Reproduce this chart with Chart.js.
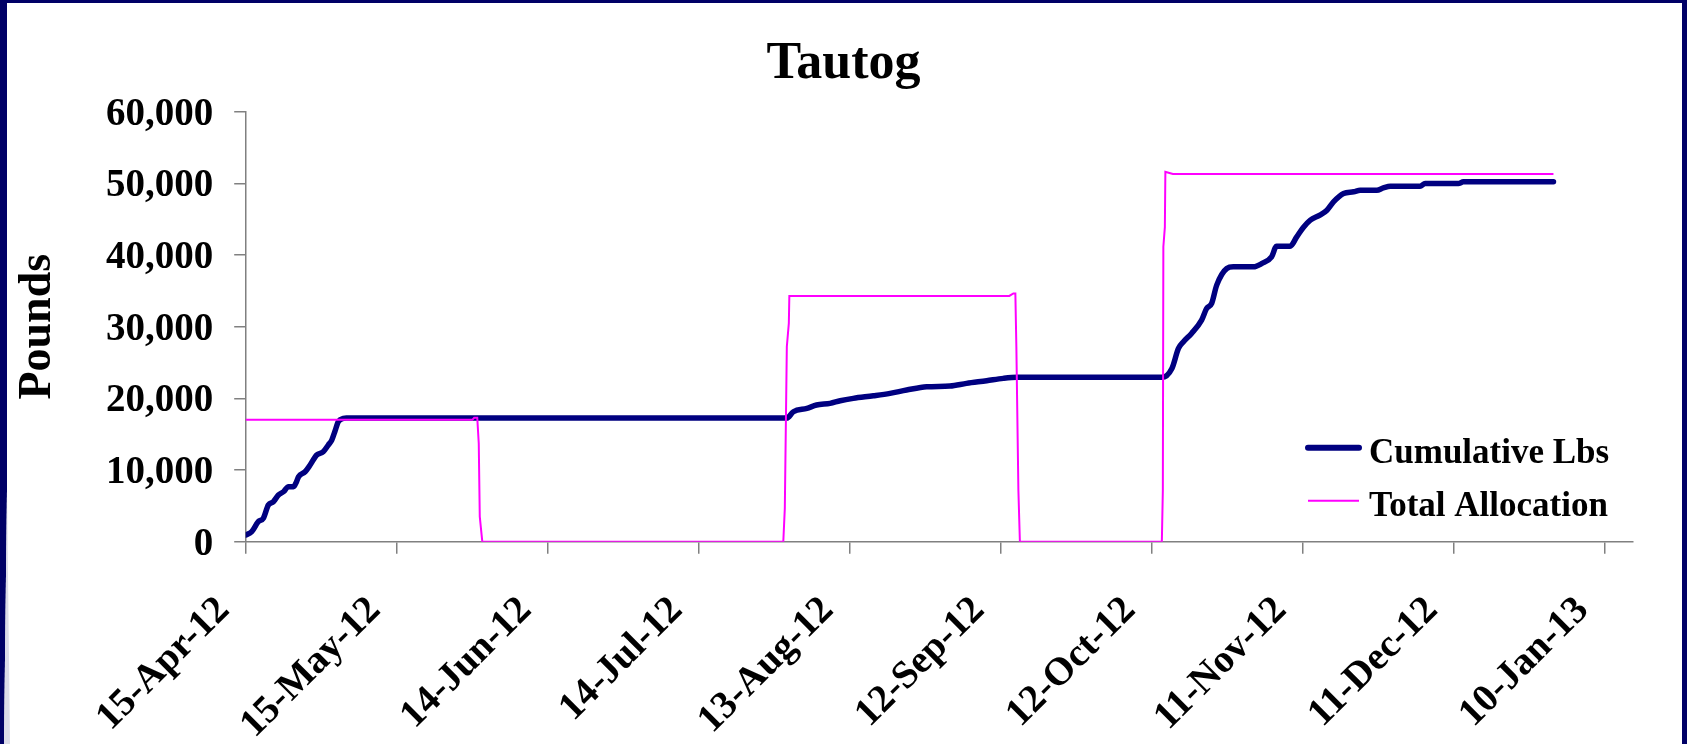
<!DOCTYPE html>
<html><head><meta charset="utf-8">
<script src="https://cdn.jsdelivr.net/npm/chart.js@4.4.1/dist/chart.umd.min.js"></script>
<style>
html,body{margin:0;padding:0;background:#fff;overflow:hidden}
#wrap{position:relative;width:1687px;height:744px;background:#fff}
#c{position:absolute;left:0;top:0}
.fr{position:absolute;background:#000066}
</style></head><body>
<div id="wrap">
<canvas id="c" width="1687" height="744"></canvas>
<div class="fr" style="left:0;top:0;width:1687px;height:3px"></div>
<div class="fr" style="right:0;top:0;width:5px;height:744px"></div>
<svg style="position:absolute;left:0;top:0" width="20" height="744">
 <polygon points="0,0 7,0 7,490 4,744 0,744" fill="#000066"/>
 <polygon points="4,744 7,490 10,744" fill="#dcdce8"/>
</svg>
</div>
<script>
// ---- data (x = days since 15-Apr-12) ----
const tickDays   = [0, 30, 60, 90, 120, 150, 180, 210, 240, 270];
const tickLabels = ['15-Apr-12','15-May-12','14-Jun-12','14-Jul-12','13-Aug-12','12-Sep-12','12-Oct-12','11-Nov-12','11-Dec-12','10-Jan-13'];
const seriesNames = ['Cumulative Lbs', 'Total Allocation'];

const cumDays = [0,1.2,2.5,3.5,4.5,5.5,6.5,7.5,8.5,9.5,10.1,10.5,11.8,12.8,14.1,15.4,16.4,17.1,17.7,18.4,19.4,20,
  107.5,108.8,111.5,113.4,116.1,118.1,120.7,124.7,128,131.3,135.3,139.9,143.2,147.2,150.5,153.2,
  182,184,185.3,186.3,187.9,189.9,190.9,191.9,192.9,194.9,196.2,200.2,201.9,203.8,204.8,207.5,208.8,210.1,
  211.5,213.4,214.8,216.1,218.1,220.1,221.4,224.7,226,227.4,233.3,234.3,240.9,241.9,259.8];
const cumLbs = [930,1400,2790,3260,5120,5580,6510,6970,7670,7670,8370,9070,9760,10700,12090,12550,13490,14180,15340,16740,17210,17250,
  17250,18130,18600,19070,19300,19670,20000,20360,20700,21160,21620,21720,22090,22460,22790,22930,
  22930,24180,26970,27900,29060,30920,32550,33250,35800,38130,38360,38360,38830,39750,41240,41240,42540,43850,
  44870,45570,46260,47420,48590,48820,49050,49050,49370,49610,49610,49980,49980,50210,50210];

const allocDays = [0,45,45.4,46,46.3,46.5,47,
  106.8,107.1,107.5,107.9,108,151.7,152.5,152.9,153.1,153.5,153.8,
  182,182.2,182.3,182.6,182.7,183.5,184.2,259.8];
const allocLbs = [17000,17000,17300,17300,13700,3500,0,
  0,4650,27200,30500,34300,34300,34650,34650,27200,7200,0,
  0,7200,41150,43900,51600,51450,51300,51300];

const yMin = 0, yMax = 60000, yStep = 10000;
const xMin = 0, xMax = 275.6;

const FONT = '"Liberation Serif", "Times New Roman", serif';
const NAVY = '#000080', MAG = '#FF00FF', AXIS = '#808080';

const toXY = (xs, ys) => xs.map((x, i) => ({x, y: ys[i]}));

const legendPlugin = {
  id: 'insideLegend',
  afterDraw(chart) {
    const ctx = chart.ctx, ca = chart.chartArea;
    const x0 = ca.right - 325, rows = [ca.bottom - 94, ca.bottom - 41];
    const widths = [6, 2];
    ctx.save();
    ctx.font = 'bold 35px ' + FONT;
    ctx.fillStyle = '#000';
    ctx.textBaseline = 'alphabetic';
    ctx.textAlign = 'left';
    [0, 1].forEach(i => {
      const ds = chart.data.datasets.find(d => d.label === seriesNames[i]);
      ctx.strokeStyle = ds.borderColor;
      ctx.lineWidth = widths[i];
      ctx.lineCap = i === 0 ? 'round' : 'butt';
      ctx.beginPath();
      ctx.moveTo(x0, rows[i]);
      ctx.lineTo(x0 + 51, rows[i]);
      ctx.stroke();
      ctx.fillText(ds.label, x0 + 61, rows[i] + 15);
    });
    ctx.restore();
  }
};

new Chart(document.getElementById('c'), {
  type: 'line',
  data: {
    datasets: [
      { label: seriesNames[0], data: toXY(cumDays, cumLbs), borderColor: NAVY, backgroundColor: NAVY,
        borderWidth: 5.5, pointRadius: 0, cubicInterpolationMode: 'monotone', borderCapStyle: 'round',
        borderJoinStyle: 'round', order: 1 },
      { label: seriesNames[1], data: toXY(allocDays, allocLbs), borderColor: MAG, backgroundColor: MAG,
        borderWidth: 2, pointRadius: 0, tension: 0, order: 0 }
    ]
  },
  options: {
    responsive: false,
    animation: false,
    events: [],
    layout: { padding: { top: 0, right: 0, bottom: 0, left: 0 } },
    plugins: {
      legend: { display: false },
      tooltip: { enabled: false },
      title: {
        display: true, text: 'Tautog', color: '#000',
        font: { family: FONT, size: 52, weight: 'bold', lineHeight: 1.2 },
        padding: { top: 33.7, bottom: 15.6 }
      }
    },
    scales: {
      x: {
        type: 'linear', min: xMin, max: xMax,
        afterBuildTicks: s => { s.ticks = tickDays.map(v => ({ value: v })); },
        afterFit: s => { s.height = 202.3; },
        grid: { drawOnChartArea: false, drawTicks: true, tickLength: 12, color: AXIS, lineWidth: 1.5 },
        border: { color: AXIS, width: 1.5 },
        ticks: {
          minRotation: 45, maxRotation: 45, autoSkip: false, padding: 34, labelOffset: -22,
          color: '#000', font: { family: FONT, size: 39, weight: 'bold' },
          callback: (v, i) => tickLabels[i]
        }
      },
      y: {
        min: yMin, max: yMax,
        afterFit: s => { s.width = 245.7; },
        grid: { drawOnChartArea: false, drawTicks: true, tickLength: 11.5, color: AXIS, lineWidth: 1.5 },
        border: { color: AXIS, width: 1.5 },
        ticks: {
          stepSize: yStep, padding: 21, labelOffset: 3, color: '#000',
          font: { family: FONT, size: 39, weight: 'bold' },
          callback: v => v.toLocaleString('en-US')
        },
        title: {
          display: true, text: 'Pounds', color: '#000',
          font: { family: FONT, size: 46, weight: 'bold', lineHeight: 1.2 },
          padding: { top: 11, bottom: 0 }
        }
      },
      spacer: {
        type: 'linear', position: 'right', display: true,
        afterFit: s => { s.width = 54; },
        grid: { display: false, drawTicks: false }, border: { display: false },
        ticks: { display: false }
      }
    }
  },
  plugins: [legendPlugin]
});
</script>
</body></html>
